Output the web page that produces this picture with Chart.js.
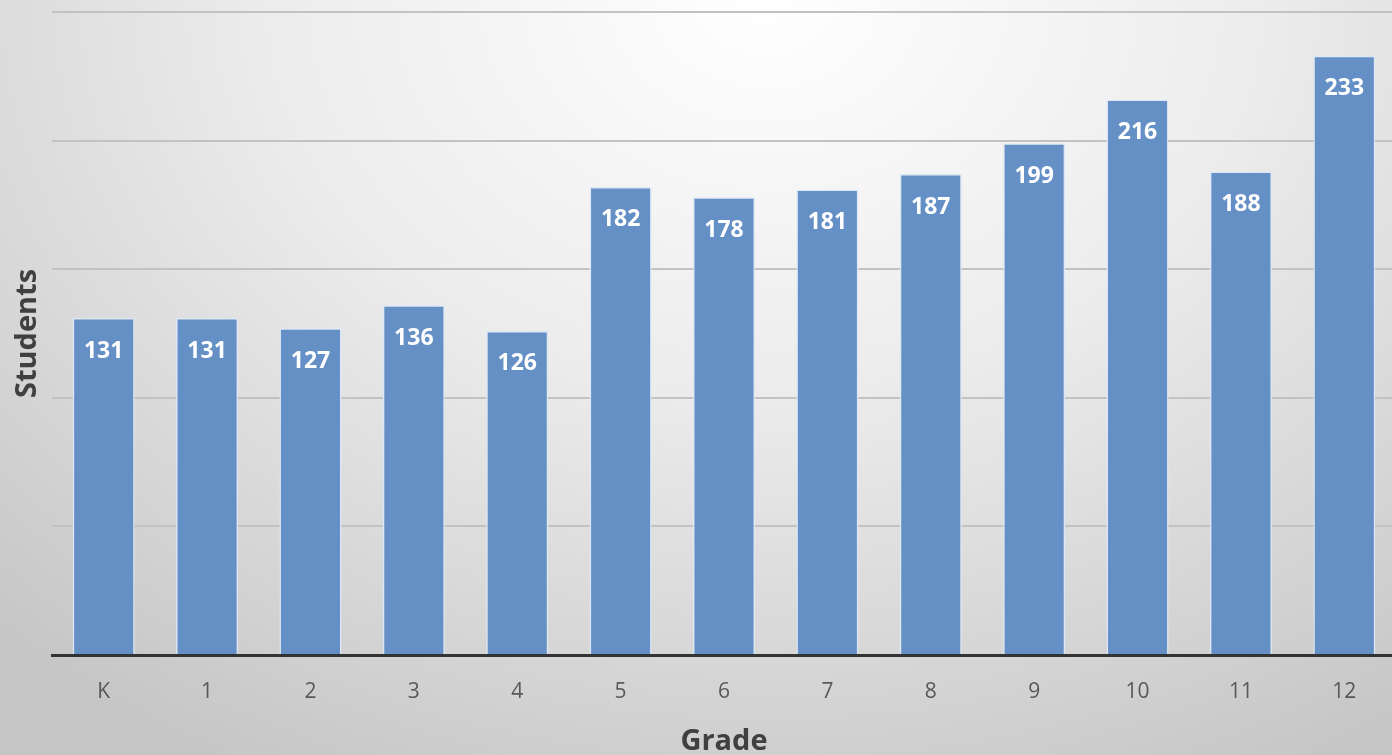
<!DOCTYPE html>
<html>
<head>
<meta charset="utf-8">
<script src="https://cdn.jsdelivr.net/npm/chart.js@4/dist/chart.umd.min.js"></script>
<style>
  html, body { margin: 0; padding: 0; width: 1392px; height: 755px; overflow: hidden; }
  body {
    background: radial-gradient(ellipse 80% 115% at 55% 0%, #ffffff 0%, #ececec 45%, #d4d4d4 80%, #c6c6c6 100%);
  }
  #wrap { position: absolute; left: 0; top: 0; width: 1396px; height: 755px; }
</style>
</head>
<body>
<div id="wrap"><canvas id="c" width="1396" height="755"></canvas></div>
<script>
const grades = ['K', '1', '2', '3', '4', '5', '6', '7', '8', '9', '10', '11', '12'];
const students = [131, 131, 127, 136, 126, 182, 178, 181, 187, 199, 216, 188, 233];
const yTicks = [0, 50, 100, 150, 200, 250];

const valueLabels = {
  id: 'valueLabels',
  afterDatasetsDraw(chart) {
    const ctx = chart.ctx;
    const meta = chart.getDatasetMeta(0);
    ctx.save();
    ctx.fillStyle = '#ffffff';
    ctx.font = 'bold 23px "Open Sans"';
    ctx.textAlign = 'center';
    ctx.textBaseline = 'middle';
    meta.data.forEach((bar, i) => {
      ctx.fillText(String(chart.data.datasets[0].data[i]), bar.x, bar.y + 33);
    });
    ctx.restore();
  }
};

new Chart(document.getElementById('c'), {
  type: 'bar',
  data: {
    labels: grades,
    datasets: [{
      data: students,
      backgroundColor: '#6590c6',
      borderColor: '#dce8f6',
      borderWidth: 1.5,
      categoryPercentage: 1,
      barPercentage: 0.6
    }]
  },
  options: {
    responsive: false,
    animation: false,
    layout: { padding: { top: 12, left: 0, right: 0, bottom: 0 } },
    plugins: { legend: { display: false }, tooltip: { enabled: false } },
    scales: {
      x: {
        afterFit(s) { s.height = 100; },
        grid: { display: false, drawTicks: false },
        border: { display: true, color: '#333333', width: 3 },
        ticks: { color: '#595959', font: { family: 'Open Sans', size: 21 }, padding: 24 },
        title: { display: true, text: 'Grade', color: '#404040', font: { family: 'Open Sans', size: 29, weight: 'bold' }, padding: { top: 0, bottom: -4 } }
      },
      y: {
        min: 0, max: 250,
        afterBuildTicks(s) { s.ticks = yTicks.map(v => ({ value: v })); },
        afterFit(s) { s.width = 52; },
        ticks: { display: false },
        grid: {
          drawTicks: false,
          color: (c) => c.tick && c.tick.value === 0 ? 'rgba(0,0,0,0)' : '#c2c2c2',
          lineWidth: 2
        },
        border: { display: false },
        title: { display: true, text: 'Students', color: '#404040', font: { family: 'Open Sans', size: 29, weight: 'bold' }, padding: { top: 10, bottom: 0 } }
      }
    }
  },
  plugins: [valueLabels]
});
</script>
</body>
</html>
